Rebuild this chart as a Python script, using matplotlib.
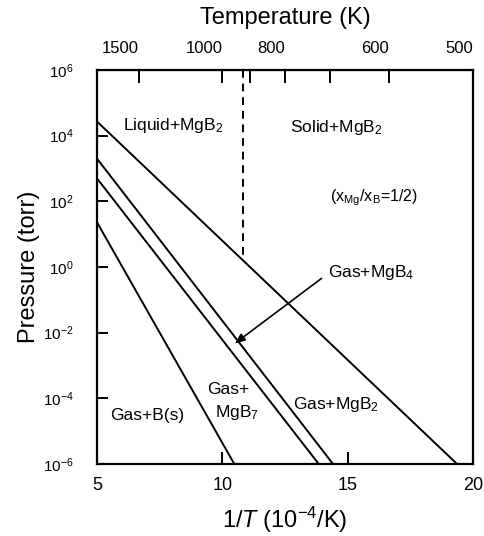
import numpy as np
import matplotlib
matplotlib.use('Agg')
import matplotlib.pyplot as plt

plt.rcParams['font.family'] = ['Liberation Sans', 'DejaVu Sans']
plt.rcParams['mathtext.fontset'] = 'custom'
plt.rcParams['mathtext.rm'] = 'Liberation Sans'
plt.rcParams['mathtext.it'] = 'Liberation Sans:italic'

# phase boundaries, 1/T in 1e-4/K and pressure in torr
invT_mgb2 = [5.0, 19.37]
p_mgb2 = [2.7e4, 1e-6]
invT_mgb4 = [5.0, 14.42]
p_mgb4 = [2.0e3, 1e-6]
invT_mgb7 = [5.0, 13.85]
p_mgb7 = [5.0e2, 1e-6]
invT_b = [5.0, 10.48]
p_b = [23.0, 1e-6]

# Mg melting point line
invT_melt = 10.83
p_melt_bottom = 2.0

temp_ticks = [1500, 1000, 900, 800, 700, 600, 500]
temp_labels = ['1500', '1000', '', '800', '', '600', '500']
y_ticks = [1e-6, 1e-4, 1e-2, 1e0, 1e2, 1e4, 1e6]
y_labels = ['$10^{-6}$', '$10^{-4}$', '$10^{-2}$', '$10^{0}$',
            '$10^{2}$', '$10^{4}$', '$10^{6}$']

fig = plt.figure(figsize=(4.84, 5.36), dpi=100)
ax = fig.add_axes([0.2004, 0.1343, 0.7766, 0.7351])

for x, p in [(invT_mgb2, p_mgb2), (invT_mgb4, p_mgb4),
             (invT_mgb7, p_mgb7), (invT_b, p_b)]:
    ax.plot(x, p, color='black', lw=1.4)

ax.plot([invT_melt, invT_melt], [1e6, p_melt_bottom], color='black',
        lw=1.4, ls=(0, (4, 3)))

ax.annotate('', xy=(10.50, 4.7e-3), xytext=(13.96, 0.45),
            arrowprops=dict(arrowstyle='-|>,head_length=0.6,head_width=0.25',
                            color='black', lw=1.2, shrinkA=0, shrinkB=0))

ax.set_yscale('log')
ax.set_xlim(5, 20)
ax.set_ylim(1e-6, 1e6)
ax.set_yticks(y_ticks)
ax.set_yticklabels(y_labels)
ax.yaxis.set_minor_locator(matplotlib.ticker.NullLocator())
ax.set_xticks([5, 10, 15, 20])
ax.set_xticklabels(['5', '10', '15', '20'])
ax.tick_params(axis='x', direction='in', length=9, width=1.4, labelsize=13, pad=9)
ax.tick_params(axis='y', direction='in', length=8, width=1.4, labelsize=11, pad=17)
for s in ax.spines.values():
    s.set_linewidth(1.6)

ax.set_xlabel('1/$T$ (10$^{-4}$/K)', fontsize=17, labelpad=8)
ax.set_ylabel('Pressure (torr)', fontsize=17, labelpad=2)

top = ax.secondary_xaxis('top', functions=(lambda x: 1e4 / x, lambda t: 1e4 / t))
top.set_xticks(temp_ticks)
top.set_xticklabels(temp_labels)
top.xaxis.set_minor_locator(matplotlib.ticker.NullLocator())
top.tick_params(direction='in', length=9, width=1.4, labelsize=12, pad=10)
for lab in top.get_xticklabels():
    lab.set_horizontalalignment('right')
top.set_xlabel('Temperature (K)', fontsize=17, labelpad=12)

fs = 12.5
ax.text(6.04, 2.1e4, 'Liquid+MgB$_2$', fontsize=fs, va='center')
ax.text(12.70, 1.8e4, 'Solid+MgB$_2$', fontsize=fs, va='center')
ax.text(14.29, 1.26e2, '(x$_{\\rm Mg}$/x$_{\\rm B}$=1/2)', fontsize=11.5, va='center')
ax.text(14.21, 0.7, 'Gas+MgB$_4$', fontsize=fs, va='center')
ax.text(12.82, 6.3e-5, 'Gas+MgB$_2$', fontsize=fs, va='center')
ax.text(9.39, 1.8e-4, 'Gas+', fontsize=fs, va='center')
ax.text(9.71, 3.8e-5, 'MgB$_7$', fontsize=fs, va='center')
ax.text(5.52, 3.1e-5, 'Gas+B(s)', fontsize=fs, va='center')

fig.savefig('out.png', dpi=100)
